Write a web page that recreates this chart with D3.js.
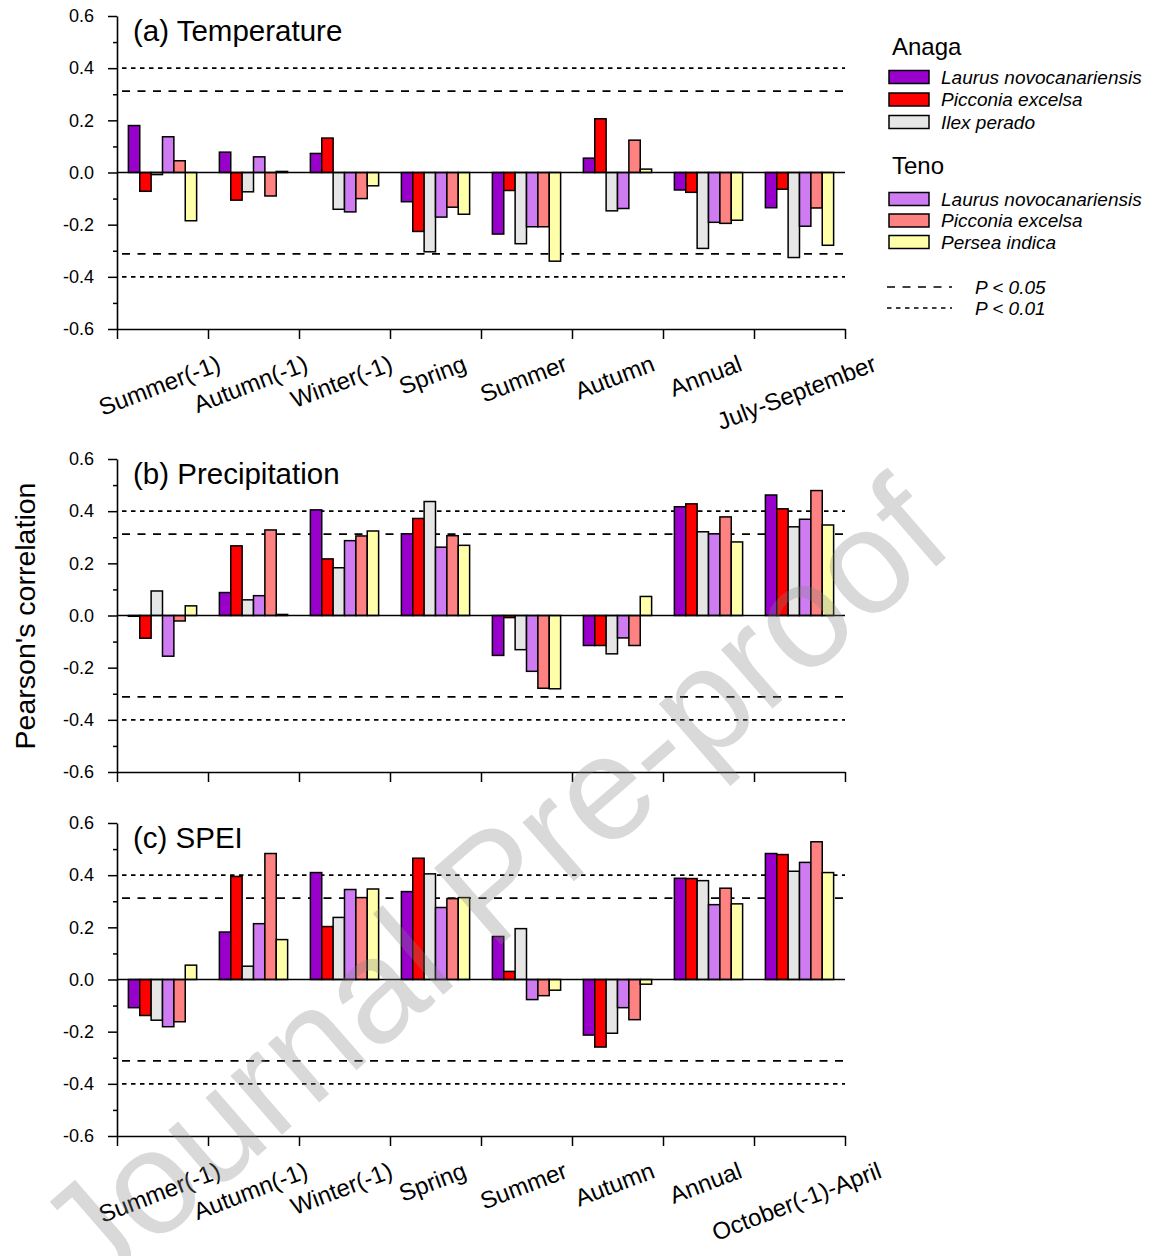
<!DOCTYPE html>
<html>
<head>
<meta charset="utf-8">
<script src="https://cdn.jsdelivr.net/npm/d3@7"></script>
<style>
  body { margin: 0; background: #fff; }
  svg { display: block; }
  text { font-family: Arial, "Liberation Sans", Helvetica, sans-serif; fill: #000; }
</style>
</head>
<body>
<svg id="chart" width="1153" height="1256"></svg>
<script>
// ---- data -------------------------------------------------------------
const seasonsTemp = ["Summer(-1)", "Autumn(-1)", "Winter(-1)", "Spring", "Summer", "Autumn", "Annual", "July-September"];
const seasonsWater = ["Summer(-1)", "Autumn(-1)", "Winter(-1)", "Spring", "Summer", "Autumn", "Annual", "October(-1)-April"];

const siteNames = ["Anaga", "Teno"];
const speciesAnaga = ["Laurus novocanariensis", "Picconia excelsa", "Ilex perado"];
const speciesTeno = ["Laurus novocanariensis", "Picconia excelsa", "Persea indica"];

// one row per season; columns: Anaga Laurus, Anaga Picconia, Anaga Ilex,
// Teno Laurus, Teno Picconia, Teno Persea
const temperature = [
  [ 0.180, -0.072, -0.008,  0.137,  0.045, -0.185],
  [ 0.078, -0.106, -0.074,  0.060, -0.090,  0.004],
  [ 0.073,  0.132, -0.141, -0.151, -0.100, -0.051],
  [-0.112, -0.226, -0.304, -0.171, -0.133, -0.160],
  [-0.236, -0.069, -0.273, -0.208, -0.208, -0.340],
  [ 0.055,  0.206, -0.147, -0.138,  0.124,  0.013],
  [-0.067, -0.076, -0.291, -0.191, -0.195, -0.183],
  [-0.135, -0.064, -0.326, -0.206, -0.136, -0.279]
];
const precipitation = [
  [-0.003, -0.087,  0.094, -0.156, -0.021,  0.037],
  [ 0.088,  0.267,  0.060,  0.076,  0.328,  0.004],
  [ 0.405,  0.217,  0.183,  0.287,  0.305,  0.324],
  [ 0.313,  0.372,  0.437,  0.262,  0.306,  0.269],
  [-0.153, -0.008, -0.131, -0.214, -0.279, -0.281],
  [-0.115, -0.115, -0.147, -0.086, -0.115,  0.073],
  [ 0.417,  0.428,  0.321,  0.313,  0.378,  0.282],
  [ 0.462,  0.409,  0.340,  0.369,  0.479,  0.347]
];
const spei = [
  [-0.108, -0.138, -0.156, -0.181, -0.162,  0.055],
  [ 0.182,  0.395,  0.051,  0.214,  0.483,  0.153],
  [ 0.410,  0.203,  0.238,  0.345,  0.314,  0.347],
  [ 0.337,  0.465,  0.405,  0.276,  0.310,  0.314],
  [ 0.165,  0.031,  0.195, -0.077, -0.062, -0.041],
  [-0.213, -0.259, -0.206, -0.108, -0.154, -0.018],
  [ 0.388,  0.387,  0.379,  0.287,  0.350,  0.290],
  [ 0.483,  0.479,  0.415,  0.449,  0.528,  0.410]
];

const yMajorTicks = [-0.6, -0.4, -0.2, 0.0, 0.2, 0.4, 0.6];
const yMinorTicks = [-0.5, -0.3, -0.1, 0.1, 0.3, 0.5];
const critP05 = 0.312;   // |r| for P < 0.05
const critP01 = 0.400;   // |r| for P < 0.01
const sigLabels = ["P < 0.05", "P < 0.01"];

// ---- layout & style ---------------------------------------------------
const svg = d3.select("#chart");
const plotLeft = 117, plotRight = 845;
const dashP05 = "8,7.5", dashP01 = "4.5,4.5";
// Anaga: solid fills; Teno: light (stippled-looking) tints
const fills = ["#9900cc", "#ff0000", "#e6e6e6", "#cf7cf2", "#ff8282", "#ffffaa"];

const panels = [
  { title: "(a) Temperature",   values: temperature,   cats: seasonsTemp,  top: 16,  labels: true },
  { title: "(b) Precipitation", values: precipitation, cats: seasonsWater, top: 459, labels: false },
  { title: "(c) SPEI",          values: spei,          cats: seasonsWater, top: 823, labels: true }
];
const panelHeight = 313;

const x0 = d3.scaleBand().domain(d3.range(8)).range([plotLeft, plotRight]).padding(0);
const bw = x0.bandwidth();
const x1 = d3.scaleBand().domain(d3.range(6)).range([bw * 0.125, bw * 0.875]).padding(0);
const xEdges = d3.scaleLinear().domain([0, 8]).range([plotLeft, plotRight]);

panels.forEach(pn => {
  const bottom = pn.top + panelHeight;
  const y = d3.scaleLinear().domain([-0.6, 0.6]).range([bottom, pn.top]);
  const g = svg.append("g");

  // significance thresholds
  [[critP05, dashP05], [critP01, dashP01]].forEach(([r, dash]) => {
    [r, -r].forEach(v => {
      g.append("line")
        .attr("x1", plotLeft + 5).attr("x2", plotRight)
        .attr("y1", y(v)).attr("y2", y(v))
        .attr("stroke", "#000").attr("stroke-width", 1.6)
        .attr("stroke-dasharray", dash);
    });
  });

  // bars
  const groups = g.selectAll("g.season").data(pn.values).join("g")
    .attr("class", "season")
    .attr("transform", (d, i) => `translate(${x0(i)},0)`);
  groups.selectAll("rect").data(d => d).join("rect")
    .attr("x", (d, j) => x1(j))
    .attr("width", x1.bandwidth())
    .attr("y", d => y(Math.max(0, d)))
    .attr("height", d => Math.abs(y(d) - y(0)))
    .attr("fill", (d, j) => fills[j])
    .attr("stroke", "#000").attr("stroke-width", 1.5);

  // zero line
  g.append("line")
    .attr("x1", plotLeft).attr("x2", plotRight)
    .attr("y1", y(0)).attr("y2", y(0))
    .attr("stroke", "#000").attr("stroke-width", 1.5);

  // y axis: major + minor ticks
  const yAxis = g.append("g").attr("transform", `translate(${plotLeft},0)`)
    .call(d3.axisLeft(y).tickValues(yMajorTicks).tickSize(9).tickSizeOuter(0)
      .tickPadding(14).tickFormat(d => d.toFixed(1)));
  g.append("g").attr("transform", `translate(${plotLeft},0)`)
    .call(d3.axisLeft(y).tickValues(yMinorTicks).tickSize(4).tickSizeOuter(0).tickFormat(""))
    .call(a => a.select(".domain").remove());

  // x axis with ticks at season boundaries
  const xAxis = g.append("g").attr("transform", `translate(0,${bottom})`)
    .call(d3.axisBottom(xEdges).tickValues(d3.range(9)).tickSize(10).tickSizeOuter(0).tickFormat(""));

  [yAxis, xAxis].forEach(a => {
    a.selectAll("path, line").attr("stroke", "#000").attr("stroke-width", 1.5);
  });
  g.selectAll(".tick line").attr("stroke-width", 1.5);
  g.selectAll(".tick text").style("font-size", "18px").attr("fill", "#000");
  g.selectAll(".domain").attr("stroke-width", 1.6);

  // panel title
  g.append("text").attr("x", 133).attr("y", pn.top + 25)
    .style("font-size", "29.5px").text(pn.title);

  // rotated season labels
  if (pn.labels) {
    const angle = 21, fs = 24, rad = angle * Math.PI / 180;
    const labelTop = bottom + 25;
    pn.cats.forEach((c, i) => {
      const t = g.append("text").style("font-size", fs + "px")
        .attr("text-anchor", "middle").text(c);
      const L = t.node().getComputedTextLength();
      const cx = x0(i) + bw / 2;
      const cy = labelTop + (L / 2) * Math.sin(rad) + 0.72 * fs * Math.cos(rad);
      t.attr("transform", `translate(${cx},${cy}) rotate(${-angle})`);
    });
  }
});

// y axis title
svg.append("text")
  .attr("transform", "translate(35,616) rotate(-90)")
  .attr("text-anchor", "middle")
  .style("font-size", "28.5px")
  .text("Pearson's correlation");

// ---- legend -----------------------------------------------------------
const lg = svg.append("g");
const legendBlocks = [
  { site: siteNames[0], titleY: 55,  rows: [77, 99.5, 122], species: speciesAnaga, fillIdx: [0, 1, 2] },
  { site: siteNames[1], titleY: 174, rows: [199, 220.5, 242], species: speciesTeno,  fillIdx: [3, 4, 5] }
];
legendBlocks.forEach(b => {
  lg.append("text").attr("x", 892).attr("y", b.titleY).style("font-size", "24px").text(b.site);
  b.species.forEach((s, k) => {
    const cy = b.rows[k];
    lg.append("rect").attr("x", 889).attr("y", cy - 6.5).attr("width", 40).attr("height", 13)
      .attr("fill", fills[b.fillIdx[k]]).attr("stroke", "#000").attr("stroke-width", 1.5);
    lg.append("text").attr("x", 941).attr("y", cy + 6.5)
      .style("font-size", "19px").style("font-style", "italic").text(s);
  });
});
[[287, dashP05, sigLabels[0]], [308, dashP01, sigLabels[1]]].forEach(([yy, dash, lab]) => {
  lg.append("line").attr("x1", 887).attr("x2", 952).attr("y1", yy).attr("y2", yy)
    .attr("stroke", "#000").attr("stroke-width", 1.4).attr("stroke-dasharray", dash);
  lg.append("text").attr("x", 975).attr("y", yy + 7)
    .style("font-size", "19px").style("font-style", "italic").text(lab);
});

// ---- watermark --------------------------------------------------------
svg.append("text")
  .attr("transform", "translate(491,883) rotate(-41)")
  .attr("text-anchor", "middle")
  .attr("y", 53)
  .style("font-size", "148px")
  .style("fill", "#808080")
  .style("fill-opacity", 0.3)
  .text("Journal Pre-proof");
</script>
</body>
</html>
